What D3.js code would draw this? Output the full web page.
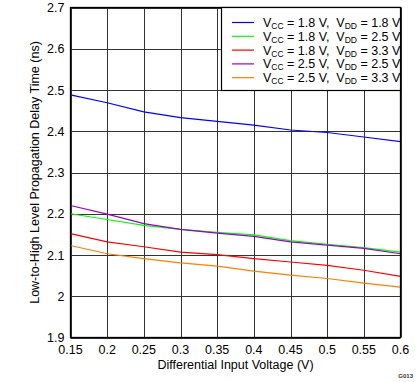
<!DOCTYPE html>
<html><head><meta charset="utf-8">
<script src="https://cdn.jsdelivr.net/npm/d3@7"></script>
<style>body{margin:0;background:#fff}svg{display:block;font-family:"Liberation Sans",Arial,sans-serif}text{white-space:pre}</style>
</head><body><svg id="c" width="419" height="382"></svg>
<script>
const xValues = [0.15,0.2,0.25,0.3,0.35,0.4,0.45,0.5,0.55,0.6];
const s18_18 = [2.488,2.469,2.447,2.433,2.424,2.415,2.403,2.397,2.386,2.375];
const s18_25 = [2.200,2.186,2.172,2.162,2.155,2.149,2.135,2.126,2.118,2.107];
const s18_33 = [2.152,2.132,2.120,2.107,2.101,2.091,2.083,2.075,2.063,2.048];
const s25_25 = [2.220,2.199,2.176,2.162,2.153,2.145,2.132,2.124,2.116,2.103];
const s25_33 = [2.123,2.103,2.091,2.081,2.073,2.061,2.051,2.043,2.032,2.022];
const xTicks = [0.15,0.2,0.25,0.3,0.35,0.4,0.45,0.5,0.55,0.6];
const yTicks = [1.9,2,2.1,2.2,2.3,2.4,2.5,2.6,2.7];
const series = [
  {vcc:"1.8", vdd:"1.8", color:"#0000ff", values:s18_18},
  {vcc:"1.8", vdd:"2.5", color:"#00ff00", values:s18_25},
  {vcc:"1.8", vdd:"3.3", color:"#ff0000", values:s18_33},
  {vcc:"2.5", vdd:"2.5", color:"#9900cc", values:s25_25},
  {vcc:"2.5", vdd:"3.3", color:"#ff7f00", values:s25_33}
];
const drawOrder = [0,2,4,1,3];

const svg = d3.select("#c");
const L=70.5, R=400.5, T=7.5, B=337.5;
const x = d3.scaleLinear().domain([0.15,0.6]).range([L,R]);
const y = d3.scaleLinear().domain([1.9,2.7]).range([B,T]);

// grid
svg.append("g").selectAll("line").data(xTicks).join("line")
  .attr("x1",d=>Math.round(x(d))+0.5).attr("x2",d=>Math.round(x(d))+0.5)
  .attr("y1",T).attr("y2",B).attr("stroke","#333").attr("stroke-width",1);
svg.append("g").selectAll("line").data(yTicks).join("line")
  .attr("y1",d=>Math.round(y(d))+0.5).attr("y2",d=>Math.round(y(d))+0.5)
  .attr("x1",L).attr("x2",R).attr("stroke","#333").attr("stroke-width",1);

// axes labels
const fmt = d=>String(+d.toFixed(2));
svg.append("g").selectAll("text").data(yTicks).join("text")
  .attr("x",L-6).attr("y",d=>y(d)+4.5).attr("text-anchor","end")
  .attr("font-size",12.5).text(fmt);
svg.append("g").selectAll("text").data(xTicks).join("text")
  .attr("x",d=>x(d)).attr("y",B+16).attr("text-anchor","middle")
  .attr("font-size",12.5).text(fmt);

svg.append("text").attr("x",(L+R)/2).attr("y",369).attr("text-anchor","middle")
  .attr("font-size",12.5).text("Differential Input Voltage (V)");
svg.append("text").attr("transform",`translate(39,${(T+B)/2}) rotate(-90)`)
  .attr("text-anchor","middle").attr("font-size",12.5)
  .text("Low-to-High Level Propagation Delay Time (ns)");
svg.append("text").attr("x",413).attr("y",378).attr("text-anchor","end")
  .attr("font-size",6).attr("font-weight","bold").attr("fill","#333").text("G013");

// lines
const line = d3.line().x((d,i)=>x(xValues[i])).y(d=>y(d));
svg.append("g").selectAll("path").data(drawOrder.map(i=>series[i])).join("path")
  .attr("d",d=>line(d.values)).attr("fill","none")
  .attr("stroke",d=>d.color).attr("stroke-width",1.2);

// frame
svg.append("rect").attr("x",L).attr("y",T).attr("width",R-L).attr("height",B-T)
  .attr("fill","none").attr("stroke","#000").attr("stroke-width",1.3);

// legend
const lg = svg.append("g");
lg.append("rect").attr("x",221.5).attr("y",T).attr("width",R-221.5).attr("height",83)
  .attr("fill","#fff").attr("stroke","#000").attr("stroke-width",1.2);
series.forEach((s,i)=>{
  const yy = 22.5 + i*13.8;
  lg.append("line").attr("x1",232).attr("x2",254).attr("y1",yy).attr("y2",yy)
    .attr("stroke",s.color).attr("stroke-width",1.2);
  const t = lg.append("text").attr("x",263).attr("y",yy+4.5).attr("font-size",12.5);
  t.append("tspan").text("V");
  t.append("tspan").attr("font-size",8.5).attr("dy",2).text("CC");
  t.append("tspan").attr("dy",-2).text(` = ${s.vcc} V,  V`);
  t.append("tspan").attr("font-size",8.5).attr("dy",2).text("DD");
  t.append("tspan").attr("dy",-2).text(` = ${s.vdd} V`);
});
</script></body></html>
